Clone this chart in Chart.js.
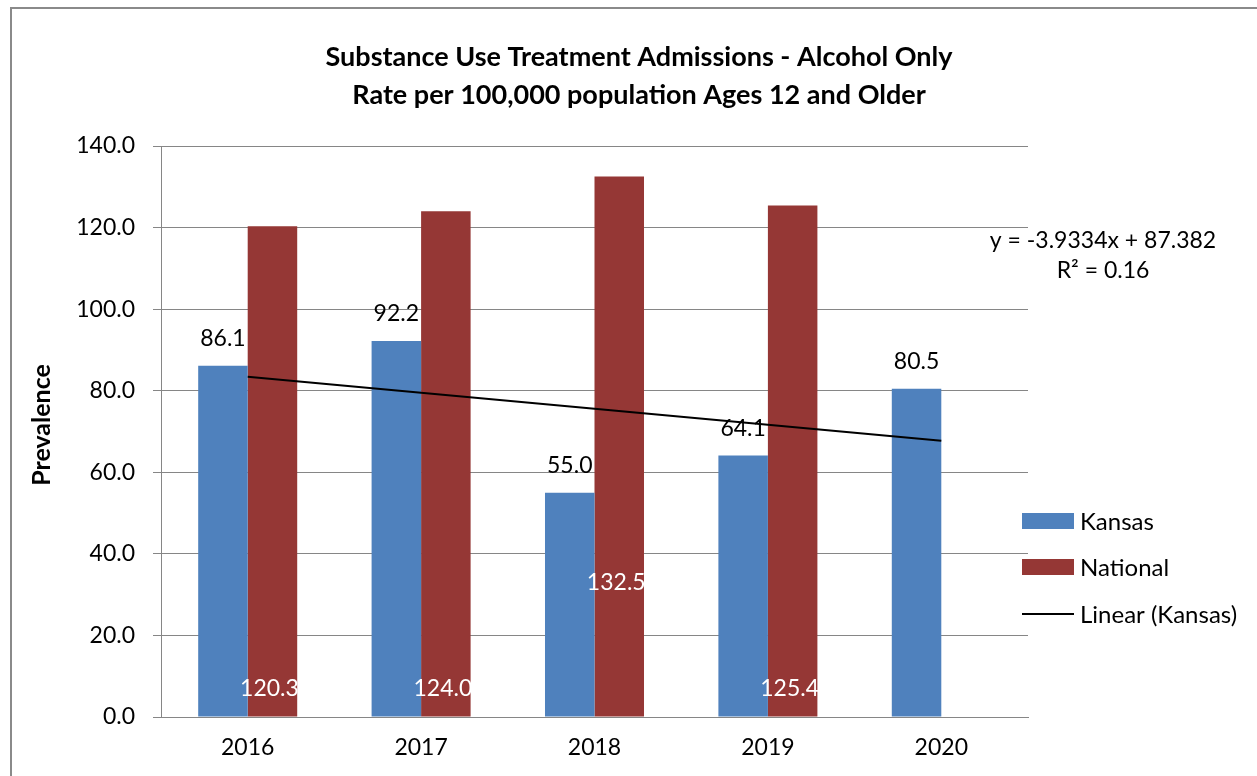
<!DOCTYPE html>
<html><head><meta charset="utf-8">
<script src="https://cdn.jsdelivr.net/npm/chart.js@4.4.0/dist/chart.umd.min.js"></script>
<style>html,body{margin:0;padding:0;background:#fff;overflow:hidden}</style>
</head><body>
<canvas id="c" width="1257" height="776"></canvas>
<script>
// ---- data ----
const years = ['2016', '2017', '2018', '2019', '2020'];
const kansas = [86.1, 92.2, 55.0, 64.1, 80.5];
const national = [120.3, 124.0, 132.5, 125.4, null];
const titleLines = ['Substance Use Treatment Admissions - Alcohol Only', 'Rate per 100,000 population Ages 12 and Older'];
const yAxisTitle = 'Prevalence';
const yMin = 0, yMax = 140, yStep = 20;
// trendline coefficients as printed on the chart (Excel linear fit of Kansas)
const trendSlope = -3.9334;
const trendIntercept = 87.382;
const trendR2 = 0.16;

const trend = years.map((_, i) => trendSlope * (i + 1) + trendIntercept);
const eqLine1 = 'y = ' + trendSlope.toFixed(4) + 'x + ' + trendIntercept.toFixed(3);
const eqLine2 = 'R\u00B2 = ' + trendR2.toFixed(2);

// ---- style ----
const FONT = 'Lato';
const FS = 23;
const BLUE = '#4F81BD';
const RED = '#953735';
const GRID = '#868686';
const nationalLabelRise = [28, 28, 134, 28, null]; // label offset above base (px)

const bgPlugin = {
  id: 'bg',
  beforeDraw(chart) {
    const ctx = chart.ctx;
    ctx.save();
    ctx.fillStyle = '#fff';
    ctx.fillRect(0, 0, chart.width, chart.height);
    ctx.strokeStyle = '#8a8a8a';
    ctx.lineWidth = 2;
    ctx.strokeRect(11, 8, chart.width + 20, chart.height + 20);
    ctx.restore();
  },
  afterDraw(chart) {
    const ctx = chart.ctx;
    ctx.save();
    // title
    ctx.fillStyle = '#000';
    ctx.textAlign = 'center';
    ctx.textBaseline = 'middle';
    ctx.font = 'bold 27px ' + FONT;
    ctx.fillText(titleLines[0], 639, 57);
    ctx.fillText(titleLines[1], 639, 95);
    // y axis title
    ctx.save();
    ctx.translate(42, 425);
    ctx.rotate(-Math.PI / 2);
    ctx.font = 'bold 25px ' + FONT;
    ctx.fillText(yAxisTitle, 0, 0);
    ctx.restore();
    // trend equation
    ctx.font = FS + 'px ' + FONT;
    ctx.fillText(eqLine1, 1103, 241);
    ctx.fillText(eqLine2, 1103, 271);
    // legend
    const ds = chart.data.datasets;
    const rows = [521, 567, 614];
    ctx.textAlign = 'left';
    ctx.font = '24px ' + FONT;
    ds.forEach((d, i) => {
      const y = rows[i];
      if (d.type === 'line') {
        ctx.strokeStyle = d.borderColor;
        ctx.lineWidth = 2;
        ctx.beginPath(); ctx.moveTo(1022, y); ctx.lineTo(1074, y); ctx.stroke();
      } else {
        ctx.fillStyle = d.backgroundColor;
        ctx.fillRect(1022, y - 8, 52, 16);
      }
      ctx.fillStyle = '#000';
      ctx.fillText(d.label, 1080, y + 1);
    });
    ctx.restore();
  },
  afterDatasetsDraw(chart) {
    const ctx = chart.ctx;
    const yScale = chart.scales.y;
    const base = yScale.getPixelForValue(0);
    ctx.save();
    ctx.font = FS + 'px ' + FONT;
    ctx.textAlign = 'center';
    ctx.textBaseline = 'middle';
    chart.getDatasetMeta(0).data.forEach((bar, i) => {
      if (kansas[i] == null) return;
      ctx.fillStyle = '#000';
      ctx.fillText(kansas[i].toFixed(1), bar.x, bar.y - 27);
    });
    chart.getDatasetMeta(1).data.forEach((bar, i) => {
      if (national[i] == null) return;
      ctx.fillStyle = '#fff';
      ctx.fillText(national[i].toFixed(1), bar.x - 3, base - nationalLabelRise[i]);
    });
    ctx.restore();
  }
};

new Chart(document.getElementById('c'), {
  data: {
    labels: years,
    datasets: [
      { type: 'bar', label: 'Kansas', data: kansas, backgroundColor: BLUE, order: 1 },
      { type: 'bar', label: 'National', data: national, backgroundColor: RED, order: 1 },
      { type: 'line', label: 'Linear (Kansas)', data: trend, borderColor: '#000', backgroundColor: '#000',
        borderWidth: 2, pointRadius: 0, fill: false, tension: 0, order: 0 }
    ]
  },
  options: {
    responsive: false,
    animation: false,
    devicePixelRatio: 1,
    layout: { padding: { left: 0, right: 229, top: 146, bottom: 0 } },
    datasets: { bar: { categoryPercentage: 0.571, barPercentage: 1.0 } },
    plugins: { legend: { display: false }, title: { display: false }, tooltip: { enabled: false } },
    scales: {
      x: {
        offset: true,
        grid: { display: false, drawTicks: false },
        border: { display: true, color: GRID, width: 1 },
        ticks: { color: '#000', font: { family: FONT, size: FS }, padding: 17, maxRotation: 0 },
        afterFit(s) { s.height = 59; }
      },
      y: {
        min: yMin, max: yMax,
        ticks: { stepSize: yStep, color: '#000', font: { family: FONT, size: FS }, padding: 18,
          callback: v => Number(v).toFixed(1) },
        grid: { color: GRID, lineWidth: 1, tickLength: 8 },
        border: { display: true, color: GRID, width: 1 },
        title: { display: false },
        afterFit(s) { s.width = 161; }
      }
    }
  },
  plugins: [bgPlugin]
});
</script>
</body></html>
